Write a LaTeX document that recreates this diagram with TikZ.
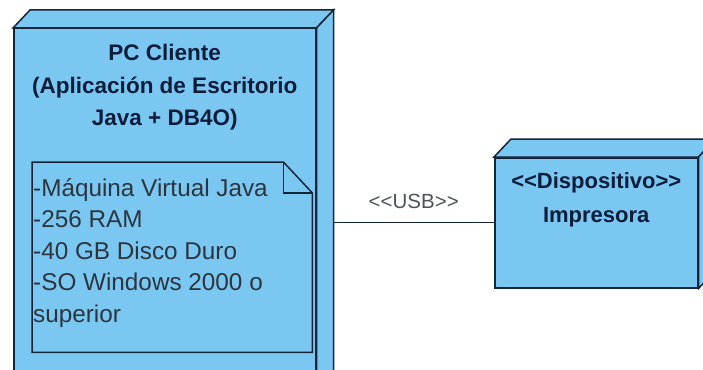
\documentclass[tikz,border=0pt]{standalone}
\usepackage{fontspec}
\setmainfont{Liberation Sans}
\usetikzlibrary{positioning,calc}
\definecolor{nodefill}{RGB}{122,200,242}
\definecolor{edge}{RGB}{22,36,58}
\definecolor{navy}{RGB}{12,28,58}
\definecolor{ink}{RGB}{45,52,62}

\begin{document}
\begin{tikzpicture}[
  x=1pt, y=-1pt,
  face/.style={draw=edge, fill=nodefill, line width=1.5pt, line join=miter},
  devbox/.style={face, rectangle, anchor=north west, inner sep=0pt},
  ttl/.style={font=\fontsize{22.5}{32.5}\selectfont\bfseries, text=navy, align=center,
              inner sep=0pt, anchor=north},
  notebox/.style={rectangle, anchor=north west, inner sep=0pt},
  spec/.style={font=\fontsize{24.3}{31.5}\selectfont, text=ink, align=left,
               inner sep=0pt, anchor=north west},
  ln/.style={draw=edge, line width=1.3pt},
  lbl/.style={font=\fontsize{20.5}{24}\selectfont, text=ink!85, above=10pt},
]
\useasboundingbox (0,0) rectangle (703,369);
\clip (0,0) rectangle (703,369);

% client machine
\node[devbox, minimum width=302pt, minimum height=360pt] (pc) at (13,28) {};
\draw[face] (pc.north west) -- ++(17,-18) -- ([shift={(17,-18)}]pc.north east)
  -- (pc.north east) -- cycle;
\draw[face] (pc.north east) -- ++(17,-18) -- ([shift={(17,-18)}]pc.south east)
  -- (pc.south east) -- cycle;
\node[ttl] (pcname) at ([shift={(0,16)}]pc.north) {PC Cliente\\(Aplicación de Escritorio\\Java + DB4O)};

% requirements note
\node[notebox, minimum width=280pt, minimum height=190pt] (req) at (32,162) {};
\draw[face] (req.north west) -- ([shift={(-29,0)}]req.north east) -- ([shift={(0,31)}]req.north east)
  -- (req.south east) -- (req.south west) -- cycle;
\draw[ln, line width=1.5pt] ([shift={(-29,0)}]req.north east) -- ([shift={(-29,31)}]req.north east)
  -- ([shift={(0,31)}]req.north east);
\node[spec] (reqtxt) at ([shift={(1,16)}]req.north west)
  {-Máquina Virtual Java\\-256 RAM\\-40 GB Disco Duro\\-SO Windows 2000 o\\superior};

% printer
\node[devbox, minimum width=203pt, minimum height=130pt] (prn) at (494,157) {};
\draw[face] (prn.north west) -- ++(17,-18) -- ([shift={(17,-18)}]prn.north east)
  -- (prn.north east) -- cycle;
\draw[face] (prn.north east) -- ++(17,-18) -- ([shift={(17,-18)}]prn.south east)
  -- (prn.south east) -- cycle;
\node[ttl, font=\fontsize{22}{34}\selectfont\bfseries] (prnname) at ([shift={(0,15)}]prn.north)
  {<{}<Dispositivo>{}>\\Impresora};

% usb link
\draw[ln] ([xshift=17]pc.east |- prn.west) -- node[lbl] (usb) {<{}<USB>{}>} (prn.west);
\end{tikzpicture}
\end{document}
